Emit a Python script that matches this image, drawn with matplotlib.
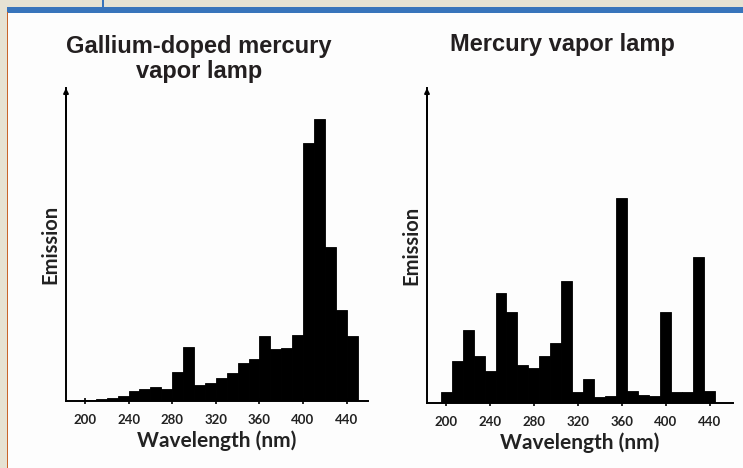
import numpy as np
import matplotlib
matplotlib.use("Agg")
from matplotlib import pyplot as plt
from matplotlib.patches import Rectangle

# wavelength bins (nm) and emission heights (arbitrary units)
wl = [200, 210, 220, 230, 240, 250, 260, 270, 280, 290, 300, 310, 320,
      330, 340, 350, 360, 370, 380, 390, 400, 410, 420, 430, 440]

gallium = [1, 2, 3, 5, 10, 12, 14, 12, 29, 54, 16, 18, 23,
           28, 38, 42, 65, 52, 53, 66, 258, 282, 154, 91, 65]

mercury = [11, 42, 73, 47, 32, 110, 91, 38, 35, 47, 60, 122, 11,
           24, 6, 7, 205, 12, 8, 7, 91, 11, 11, 146, 12]

ticks = [200, 240, 280, 320, 360, 400, 440]
titulos = ["Gallium-doped mercury\nvapor lamp", "Mercury vapor lamp"]

W, H = 743, 468
fig = plt.figure(figsize=(W / 100, H / 100), dpi=100)
fig.patch.set_facecolor("#fdfdfd")

# marco de la pagina
fig.add_artist(Rectangle((0, 0), 1, 1, transform=fig.transFigure,
                         facecolor="#e6e2d3", edgecolor="none", zorder=-10))
fig.add_artist(Rectangle((8 / W, 0), 1, 1 - 12 / H, transform=fig.transFigure,
                         facecolor="#fdfdfd", edgecolor="none", zorder=-9))
fig.add_artist(Rectangle((7 / W, 1 - 12.5 / H), 1, 6 / H, transform=fig.transFigure,
                         facecolor="#3874bb", edgecolor="none", zorder=-8))
fig.add_artist(Rectangle((7 / W, 0), 1.3 / W, 1 - 12 / H, transform=fig.transFigure,
                         facecolor="#c8642a", edgecolor="none", zorder=-8))
fig.add_artist(Rectangle((102 / W, 1 - 7 / H), 2 / W, 7 / H, transform=fig.transFigure,
                         facecolor="#3874bb", edgecolor="none", zorder=-8))

fuente = "Lato"


def panel(x0, x1, ybase, ytop, datos, alineacion, xl, yl):
    ax = fig.add_axes([x0 / W, 1 - ybase / H, (x1 - x0) / W, (ybase - ytop) / H])
    ax.set_facecolor("none")
    ax.bar(wl, datos, width=10, align=alineacion, color="black", edgecolor="black", linewidth=0.6)
    ax.set_xlim(xl)
    ax.set_ylim(0, yl)
    for s in ["top", "right"]:
        ax.spines[s].set_visible(False)
    ax.spines["left"].set_linewidth(1.4)
    ax.spines["bottom"].set_linewidth(1.4)
    ax.annotate("", xy=(0, 1.0), xytext=(0, 0.9), xycoords="axes fraction",
                arrowprops=dict(arrowstyle="-|>", color="black", lw=1.4, mutation_scale=7,
                                shrinkA=0, shrinkB=0))
    ax.set_yticks([])
    ax.set_xticks(ticks)
    ax.set_xticklabels([str(t) for t in ticks], fontsize=9.5, fontweight="bold",
                       family=fuente, color="#222222")
    ax.tick_params(axis="x", direction="inout", length=5, width=1.2, pad=7)
    ax.set_xlabel("Wavelength (nm)", fontsize=15, fontweight="bold", family=fuente,
                  color="#222222", labelpad=3)
    ax.set_ylabel("Emission", fontsize=14.5, fontweight="bold", family=fuente,
                  color="#222222", labelpad=4)
    return ax


ax1 = panel(66, 368, 401, 88, gallium, "edge", (182.6, 459.6), 313)
ax2 = panel(427, 733, 403, 88, mercury, "center", (182.7, 461), 315)

fig.text(199 / W, 1 - 59 / H, titulos[0], ha="center", va="center", fontsize=17,
         fontweight="bold", family="Liberation Sans", color="#231f20", linespacing=1.15)
fig.text(562 / W, 1 - 45 / H, titulos[1], ha="center", va="center", fontsize=17,
         fontweight="bold", family="Liberation Sans", color="#231f20")

plt.savefig("out.png", dpi=100)
plt.close()
